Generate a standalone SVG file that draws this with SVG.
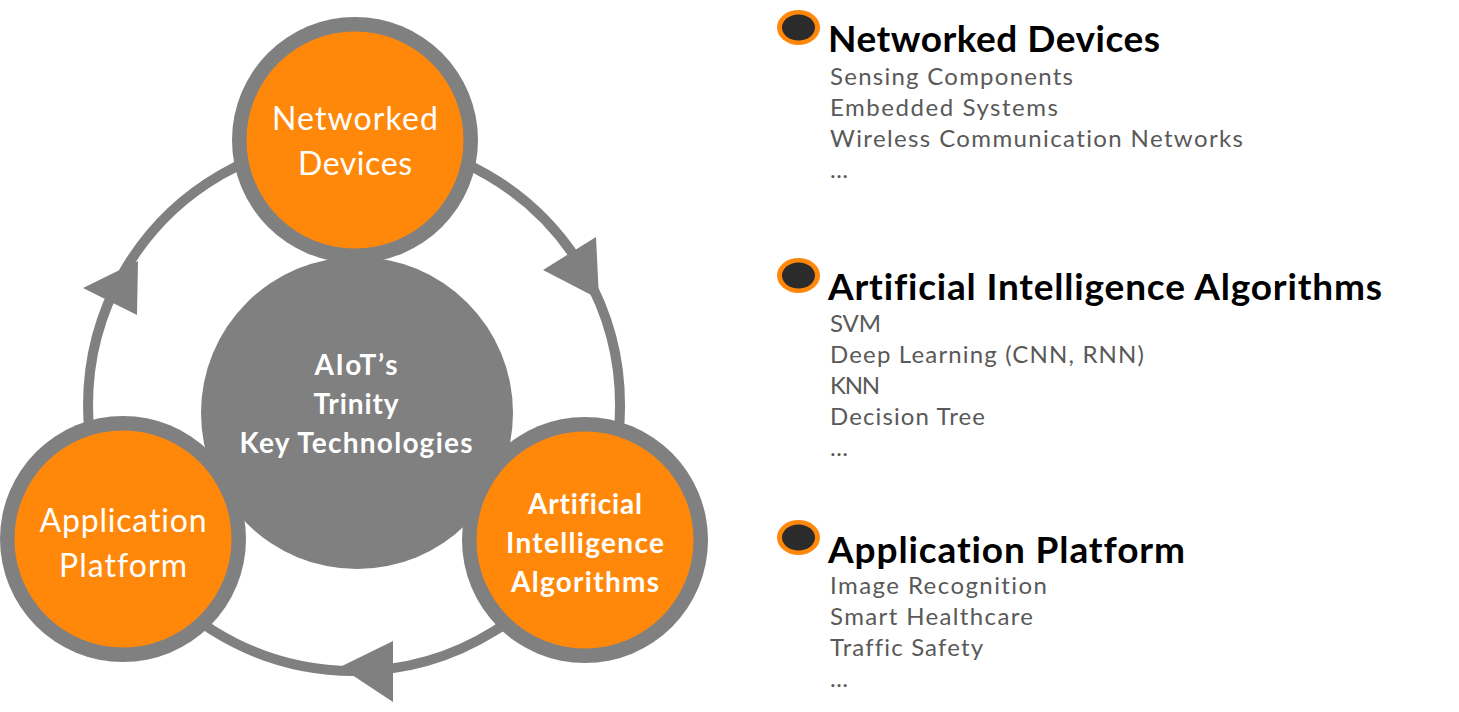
<svg xmlns="http://www.w3.org/2000/svg" width="1459" height="712" viewBox="0 0 1459 712">
<style>
text{font-variant-ligatures:none;font-feature-settings:"liga" 0,"dlig" 0}
.ring{fill:#808080}
.core{fill:#FF880A}
.arc{fill:none;stroke:#808080;stroke-width:10}
.head{fill:#808080}
.lbl{font-family:Lato,"Liberation Sans",sans-serif;fill:#fff;text-anchor:middle}
.lb{font-weight:bold}
.h{font-family:Lato,"Liberation Sans",sans-serif;font-weight:bold;font-size:37px;fill:#000}
.it{font-family:Lato,"Liberation Sans",sans-serif;font-size:24px;fill:#595959}
.bo{fill:#FF880A}
.bi{fill:#2B2B2B}
</style>
<rect width="1459" height="712" fill="#fff"/>
<g id="connectors">
<path class="arc" d="M354,139 A266,266 0 0 1 583.7,539.2"/>
<path class="arc" d="M583.7,539.2 A266,266 0 0 1 123.9,538.4"/>
<path class="arc" d="M123.9,538.4 A266,266 0 0 1 354,139"/>
<polygon class="head" points="596,237 543,270 599,299"/>
<polygon class="head" points="393,641 393,702 340,667"/>
<polygon class="head" points="83,288 138,261 137,315"/>
</g>
<g id="node-center">
<circle cx="357" cy="413" r="156" class="ring"/>
<text class="lbl lb" font-size="28" x="356" y="375" textLength="83">AIoT’s</text>
<text class="lbl lb" font-size="28" x="356" y="414" textLength="85">Trinity</text>
<text class="lbl lb" font-size="28" x="356" y="453" textLength="233">Key Technologies</text>
</g>
<g id="node-networked">
<circle cx="355" cy="140" r="123" class="ring"/>
<circle cx="355" cy="140" r="108.5" class="core"/>
<text class="lbl" font-size="32" x="355" y="130" textLength="166">Networked</text>
<text class="lbl" font-size="32" x="355" y="175" textLength="114">Devices</text>
</g>
<g id="node-ai">
<circle cx="585" cy="540" r="123" class="ring"/>
<circle cx="585" cy="540" r="108.5" class="core"/>
<text class="lbl lb" font-size="28" x="585" y="514" textLength="114">Artificial</text>
<text class="lbl lb" font-size="28" x="585" y="553" textLength="158">Intelligence</text>
<text class="lbl lb" font-size="28" x="585" y="592" textLength="148">Algorithms</text>
</g>
<g id="node-app">
<circle cx="123" cy="539" r="123" class="ring"/>
<circle cx="123" cy="539" r="108.5" class="core"/>
<text class="lbl" font-size="32" x="123" y="532" textLength="167">Application</text>
<text class="lbl" font-size="32" x="123" y="577" textLength="128">Platform</text>
</g>
<g id="legend-networked">
<ellipse cx="798.5" cy="27.5" rx="21.5" ry="17.5" class="bo"/>
<ellipse cx="798.5" cy="27.5" rx="16.5" ry="13" class="bi"/>
<text class="h" x="828" y="52" textLength="332">Networked Devices</text>
<text class="it" x="830" y="85" textLength="243">Sensing Components</text>
<text class="it" x="830" y="116" textLength="228">Embedded Systems</text>
<text class="it" x="830" y="147" textLength="413">Wireless Communication Networks</text>
<text class="it" x="830" y="178">…</text>
</g>
<g id="legend-ai">
<ellipse cx="798.5" cy="275.5" rx="21.5" ry="17.5" class="bo"/>
<ellipse cx="798.5" cy="275.5" rx="16.5" ry="13" class="bi"/>
<text class="h" x="828" y="300" textLength="554">Artificial Intelligence Algorithms</text>
<text class="it" x="830" y="332" textLength="51">SVM</text>
<text class="it" x="830" y="363" textLength="314">Deep Learning (CNN, RNN)</text>
<text class="it" x="830" y="394" textLength="50">KNN</text>
<text class="it" x="830" y="425" textLength="155">Decision Tree</text>
<text class="it" x="830" y="456">…</text>
</g>
<g id="legend-app">
<ellipse cx="798.5" cy="537.5" rx="21.5" ry="17.5" class="bo"/>
<ellipse cx="798.5" cy="537.5" rx="16.5" ry="13" class="bi"/>
<text class="h" x="828" y="563" textLength="357">Application Platform</text>
<text class="it" x="830" y="594" textLength="217">Image Recognition</text>
<text class="it" x="830" y="625" textLength="203">Smart Healthcare</text>
<text class="it" x="830" y="656" textLength="153">Traffic Safety</text>
<text class="it" x="830" y="687">…</text>
</g>
</svg>
